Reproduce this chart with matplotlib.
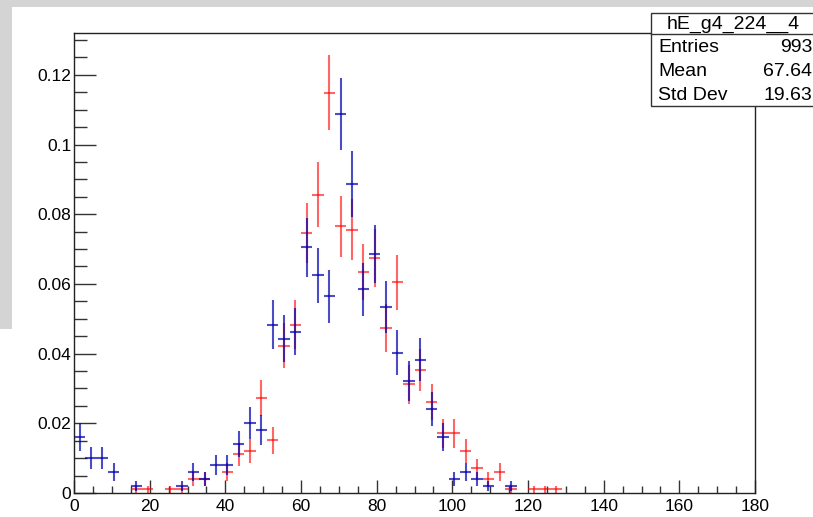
#!/usr/bin/env python3
# -*- coding: utf-8 -*-
import numpy as np
import matplotlib as mpl
mpl.use('Agg')
import matplotlib.pyplot as plt
from matplotlib.patches import Rectangle
from matplotlib.ticker import MultipleLocator

mpl.rc('font', family=['Liberation Sans', 'DejaVu Sans'])

# %% data: 60 bins of width 3 between 0 and 180, counts per bin (normalised by n_entries)
bin_width = 3.0
bin_centers = np.arange(60) * bin_width + bin_width / 2

# blue histogram (hE_g4_224__4), only non-empty bins listed
blue_bins = [0, 1, 2, 3, 5, 9, 10, 11, 12, 13, 14, 15, 16, 17, 18, 19, 20, 21, 22, 23,
             24, 25, 26, 27, 28, 29, 30, 31, 32, 33, 34, 35, 36, 38]
blue_counts = [16, 10, 10, 6, 2, 2, 6, 4, 8, 8, 14, 20, 18, 48, 44, 46, 70, 62, 56, 108,
               88, 58, 68, 53, 40, 32, 38, 24, 16, 4, 6, 4, 2, 2]

# red histogram
red_bins = [5, 6, 8, 9, 10, 11, 13, 14, 15, 16, 17, 18, 19, 20, 21, 22, 23, 24, 25, 26,
            27, 28, 29, 30, 31, 32, 33, 34, 35, 36, 37, 38, 40, 41, 42]
red_counts = [1, 1, 1, 1, 4, 4, 6, 11, 12, 27, 15, 42, 48, 74, 85, 114, 76, 75, 63, 67,
              47, 60, 31, 35, 26, 17, 17, 12, 7, 4, 6, 1, 1, 1, 1]

n_entries = 993
stats_name = 'hE_g4_224__4'
stats_rows = [('Entries', '993'), ('Mean', '67.64'), ('Std Dev', '19.63')]

# %% figure
W, H = 813, 517
fig = plt.figure(figsize=(W / 100, H / 100), dpi=100, facecolor='#d4d4d4')

# white canvas (the grey frame is only visible at the top and upper left)
fig.patches.append(Rectangle((12 / W, 0), 1, (H - 7) / H, transform=fig.transFigure,
                             facecolor='white', edgecolor='none', zorder=-2))
fig.patches.append(Rectangle((0, 0), 13 / W, (H - 329) / H, transform=fig.transFigure,
                             facecolor='white', edgecolor='none', zorder=-2))

ax = fig.add_axes([74 / W, (H - 493) / H, (755 - 74) / W, (493 - 33) / H])
ax.set_facecolor('white')

for bins, counts, col, a in [(red_bins, red_counts, '#ff0000', 0.6),
                             (blue_bins, blue_counts, '#0000b0', 0.7)]:
  c = np.array(counts, dtype=float)
  x = bin_centers[bins]
  ax.errorbar(x, c / n_entries, xerr=bin_width / 2, yerr=np.sqrt(c) / n_entries,
              fmt='none', ecolor=col, elinewidth=1.5, alpha=a, capsize=0)

ax.set_xlim(0, 180)
ax.set_ylim(0, 0.132)

ax.xaxis.set_major_locator(MultipleLocator(20))
ax.xaxis.set_minor_locator(MultipleLocator(5))
ax.yaxis.set_major_locator(MultipleLocator(0.02))
ax.yaxis.set_minor_locator(MultipleLocator(0.005))
ax.yaxis.set_major_formatter(mpl.ticker.FuncFormatter(lambda v, p: ('%g' % round(v, 3))))

ax.tick_params(axis='both', which='both', direction='in', labelsize=12.5, width=1, color='#333333')
ax.tick_params(axis='x', which='major', length=9.5, pad=4)
ax.tick_params(axis='x', which='minor', length=5)
ax.tick_params(axis='y', which='major', length=16, pad=2)
ax.tick_params(axis='y', which='minor', length=9)

for s in ax.spines.values():
  s.set_linewidth(1)
  s.set_color('#222222')

# %% stats box
bx0, bx1 = 651, 830
by0, by1, bsep = 13, 106, 34
fig.patches.append(Rectangle((bx0 / W, (H - by1) / H), (bx1 - bx0) / W, (by1 - by0) / H,
                             transform=fig.transFigure, facecolor='white',
                             edgecolor='#333333', linewidth=1, zorder=5))
fig.lines.append(plt.Line2D([bx0 / W, 1], [(H - bsep) / H] * 2, transform=fig.transFigure,
                            color='#333333', linewidth=1, zorder=6))
fig.text(733 / W, (H - 24) / H, stats_name, ha='center', va='center', fontsize=14, zorder=7)
row_y = [48, 71, 95]
for (lab, val), yy in zip(stats_rows, row_y):
  fig.text(658 / W, (H - yy) / H, lab, ha='left', va='center', fontsize=14, zorder=7)
  fig.text(812 / W, (H - yy) / H, val, ha='right', va='center', fontsize=14, zorder=7)

fig.savefig('out.png', dpi=100, facecolor=fig.get_facecolor())
